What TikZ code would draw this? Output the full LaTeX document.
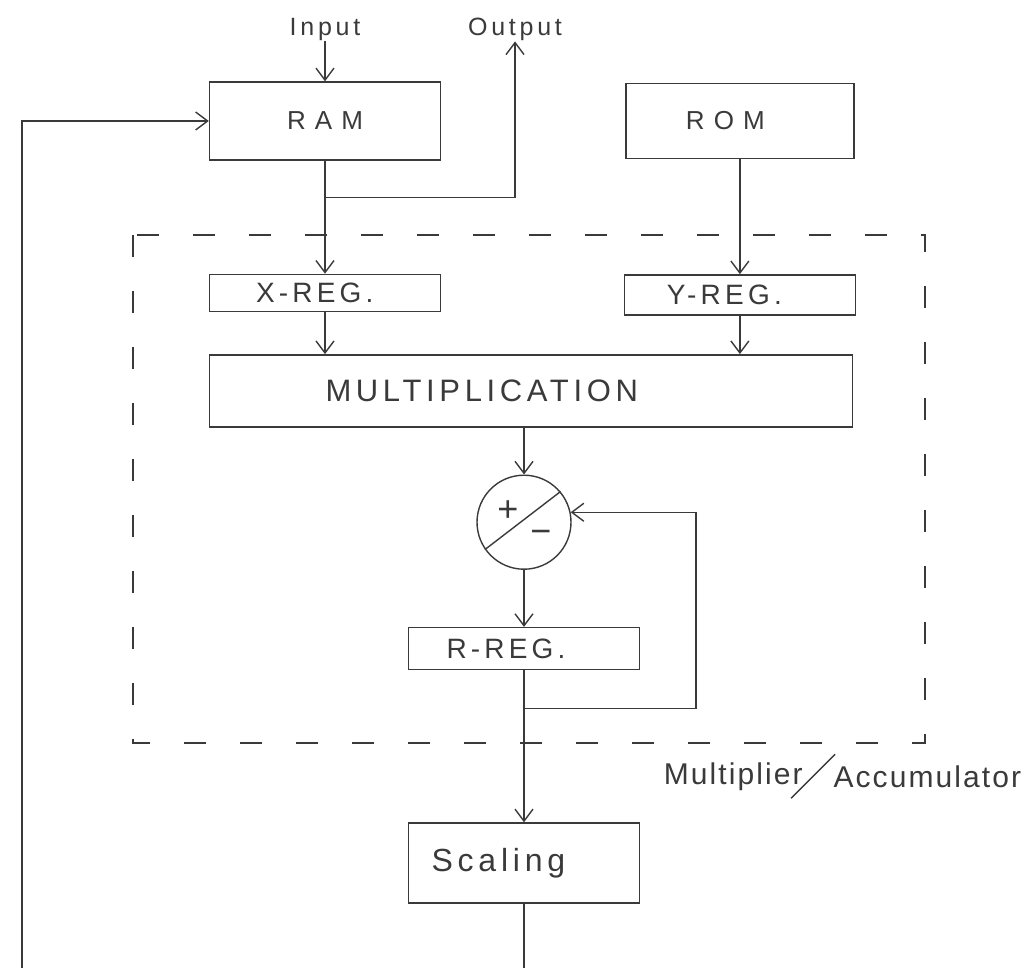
\documentclass[tikz,border=0pt]{standalone}
\usepackage{fontspec}
\setmainfont{Liberation Sans}
\newfontfamily\regfont[LetterSpace=15]{Liberation Sans}
\newfontfamily\memfont[LetterSpace=35]{Liberation Sans}
\newfontfamily\tagfont[LetterSpace=7]{Liberation Sans}
\usetikzlibrary{arrows.meta, positioning, calc}
\definecolor{ink}{HTML}{3A3A3A}

\begin{document}
\begin{tikzpicture}[
    box/.style={rectangle, draw=ink, line width=0.7pt, text=ink, inner sep=0pt, align=left},
    reg/.style={box, minimum width=115.5pt, font=\regfont\fontsize{14}{16}\selectfont},
    lbl/.style={inner sep=0pt, text=ink, font=\regfont\fontsize{12.5}{14}\selectfont},
    sign/.style={inner sep=0pt, text=ink, font=\fontsize{18}{20}\selectfont},
    arrow/.style={draw=ink, line width=0.7pt, -{Straight Barb[length=6pt,width=9pt]}},
    line/.style={draw=ink, line width=0.7pt},
    frame/.style={draw=ink, line width=0.9pt, dash pattern=on 11pt off 17pt}
]
\useasboundingbox (0,0) rectangle (516.5pt,-484pt);

% Nodes
\node (ram) [box, minimum width=115.5pt, minimum height=39pt, align=center, font=\memfont\fontsize{13}{15}\selectfont] at (162.5pt,-60.5pt) {RAM};
\node (rom) [box, minimum width=114pt, minimum height=37.5pt, text width=54pt, font=\memfont\fontsize{13}{15}\selectfont, right=92pt of ram] {ROM};
\node (input) [lbl, above=20pt of ram] {Input};
\node (output) [lbl] at ($(input)+(95pt,0)$) {Output};

\node (xreg) [reg, minimum height=18.5pt, text width=69pt, below=56.5pt of ram] {X-REG.};
\node (yreg) [reg, minimum height=20pt, text width=73pt, below=57.5pt of rom] {Y-REG.};
\node (mult) [box, minimum width=321.5pt, minimum height=36pt, text width=205.5pt, font=\regfont\fontsize{15.5}{18}\selectfont, below right=21pt and 0pt of xreg.south west] {MULTIPLICATION};
\node (sum) [circle, draw=ink, line width=0.7pt, minimum size=47pt, inner sep=0pt, below=23.5pt of mult, xshift=-3.5pt] {};
\node (plus) [sign] at ($(sum)+(-8pt,5.5pt)$) {+};
\node (minus) [sign] at ($(sum)+(8.5pt,-7.5pt)$) {−};
\node (rreg) [reg, minimum height=21pt, text width=77.5pt, below=28.5pt of sum] {R-REG.};
\node (scaling) [box, minimum width=115.5pt, minimum height=40pt, text width=92.5pt, font=\regfont\fontsize{16}{18}\selectfont, below=76pt of rreg] {Scaling};

% Multiplier/accumulator frame
\coordinate (fnw) at ($(xreg.north west)+(-38pt,19.5pt)$);
\coordinate (fse) at ($(yreg.east |- rreg.south)+(34.5pt,-36.5pt)$);
\draw[frame] (fnw) rectangle (fse);
\coordinate (slash) at ($(fse)+(-56pt,-16.5pt)$);
\node (mulname) [lbl, font=\tagfont\fontsize{15}{17}\selectfont, anchor=east] at ($(slash)+(-5pt,0)$) {Multiplier};
\node (accname) [lbl, font=\tagfont\fontsize{15}{17}\selectfont, anchor=west] at ($(slash)+(10pt,0)$) {Accumulator};
\draw[line] ($(slash)+(-11pt,-11pt)$) -- ($(slash)+(11pt,11pt)$);

% Arrows
\draw[arrow] (input) -- (ram);
\coordinate (split) at ($(ram.south)+(0,-18.5pt)$);
\draw[line] (ram) -- (split);
\draw[arrow] (split) -- (xreg);
\draw[arrow] (split) -| (output);
\draw[arrow] (rom) -- (yreg);
\draw[arrow] (xreg) -- (xreg |- mult.north);
\draw[arrow] (yreg) -- (yreg |- mult.north);
\draw[arrow] (mult.south -| sum) -- (sum);
\draw[line] (sum.215) -- (sum.40);
\draw[arrow] (sum) -- (rreg);

\coordinate (tap) at ($(rreg.south)+(0,-19pt)$);
\coordinate (loop) at ($(tap)+(86pt,0)$);
\draw[arrow] (tap) -- (loop) |- (sum.12);
\draw[arrow] (rreg) -- (scaling);

\coordinate (bottom) at ($(scaling.south)+(0,-37pt)$);
\draw[line] (scaling) -- (bottom);
\coordinate (back) at (11pt,-485pt);
\draw[arrow] (back) |- (ram.west);

\end{tikzpicture}
\end{document}
